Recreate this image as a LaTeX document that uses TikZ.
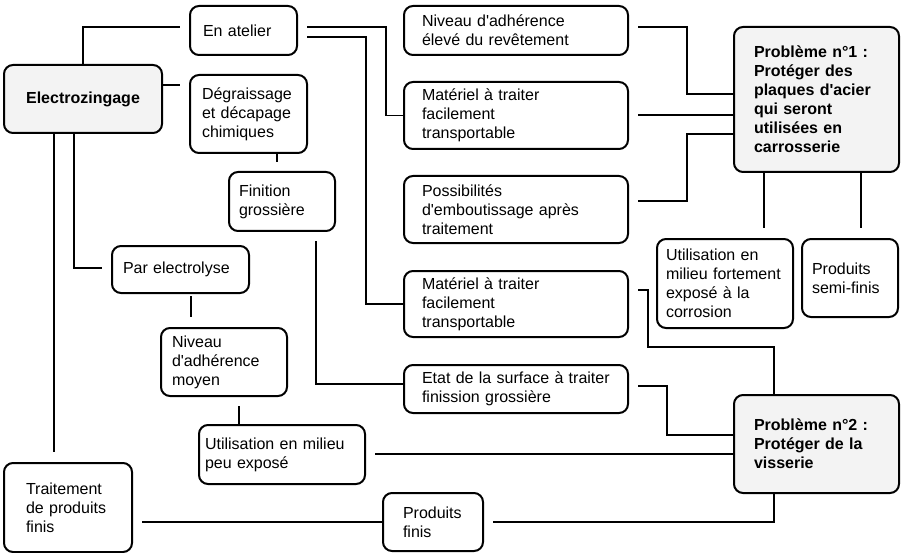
\documentclass[tikz,border=0pt]{standalone}
\usepackage{fontspec}
\setmainfont{Liberation Sans}
\usepackage{tikz}
\usetikzlibrary{positioning}

\definecolor{boxgray}{RGB}{243,243,243}
\newcommand{\boxfont}{\fontsize{16}{19}\selectfont}

\begin{document}
\hyphenpenalty=10000
\begin{tikzpicture} [x=1pt,y=-1pt,
		box/.style={rectangle,draw=black,line width=2pt,rounded corners=9pt,align=left,inner ysep=0pt,font=\boxfont},
		mainbox/.style={box,fill=boxgray,inner xsep=20pt,font=\boxfont\bfseries},
		wire/.style={line width=1.1pt},
		tailgap/.style={shorten <=9pt},
		tipgap/.style={shorten >=9pt},
		node distance = 25pt]

		\useasboundingbox (0,0) rectangle (901,553);

		% left part
		\node[mainbox, align=center, inner xsep=10pt, text width=138pt, minimum height=68pt] (elec) at (83,99) {Electrozingage};
		\node[box, inner xsep=13pt, text width=81pt, minimum height=49pt] (atelier) at (243.5,30.5) {En atelier};
		\node[box, inner xsep=12pt, text width=93pt, minimum height=78pt] (degr) at (248.5,114) {Dégraissage\\et décapage\\chimiques};
		\node[box, inner xsep=10pt, text width=86pt, minimum height=59pt] (finition) at (282,201.5) {Finition\\grossière};
		\node[box, inner xsep=11pt, text width=115pt, minimum height=47pt] (electro) at (180.5,269.5) {Par electrolyse};
		\node[box, inner xsep=11pt, text width=104pt, minimum height=68pt] (moyen) at (224,362) {Niveau\\d\textquotesingle adhérence\\moyen};
		\node[box, inner xsep=6pt, text width=154pt, minimum height=59pt] (peu) at (282,454.5) {Utilisation en milieu\\peu exposé};
		\node[box, inner xsep=22pt, text width=84pt, minimum height=89pt] (traitement) at (68,507.5) {Traitement\\de produits\\finis};
		\node[box, inner xsep=20pt, text width=60pt, minimum height=58pt] (finis) at (433,522) {Produits\\finis};

		% middle column
		\node[box, inner xsep=18pt, text width=188pt, minimum height=49pt] (eleve) at (516,30.5) {Niveau d\textquotesingle adhérence\\élevé du revêtement};
		\node[box, inner xsep=18pt, text width=188pt, minimum height=67pt, below=25pt of eleve] (mat1) {Matériel à traiter\\facilement\\transportable};
		\node[box, inner xsep=18pt, text width=188pt, minimum height=67pt, below=25pt of mat1] (emb) {Possibilités\\d\textquotesingle emboutissage après\\traitement};
		\node[box, inner xsep=18pt, text width=188pt, minimum height=66pt, below=26pt of emb] (mat2) {Matériel à traiter\\facilement\\transportable};
		\node[box, inner xsep=18pt, text width=188pt, minimum height=48pt, below=26pt of mat2] (etat) {Etat de la surface à traiter\\finission grossière};

		% problems
		\node[mainbox, text width=125pt, minimum height=145pt] (prob1) at (816.5,99.5) {Problème n°1 :\\Protéger des\\plaques d\textquotesingle acier\\qui seront\\utilisées en\\carrosserie};
		\node[box, inner xsep=9pt, text width=118pt, minimum height=89pt] (fort) at (725,283.5) {Utilisation en\\milieu fortement\\exposé à la\\corrosion};
		\node[box, inner xsep=10pt, text width=76pt, minimum height=78pt] (semi) at (850,278) {Produits\\semi-finis};
		\node[mainbox, text width=125pt, minimum height=98pt] (prob2) at (816.5,444) {Problème n°2 :\\Protéger de la\\visserie};

		% links from Electrozingage
		\draw[wire,tipgap] (elec.north) |- (atelier.west |- 0,27);
		\draw[wire,tipgap] (elec.east |- 0,85) -- (degr.west |- 0,85);
		\draw[wire,tipgap] (elec.south -| 74,0) |- (electro.west |- 0,268);
		\draw[wire,tipgap,shorten >=10pt] (elec.south -| 54,0) -- (traitement.north -| 54,0);

		% chains
		\draw[wire,tipgap] (degr.south -| 277,0) -- (finition.north -| 277,0);
		\draw[wire,shorten <=2pt,shorten >=10pt] (electro.south -| 191,0) -- (moyen.north -| 191,0);
		\draw[wire,tailgap] (moyen.south -| 239,0) -- (peu.north -| 239,0);

		% towards the middle column
		\draw[wire,tailgap] (atelier.east |- 0,27) -| (386,0 |- mat1.west) -- (mat1.west);
		\draw[wire,tailgap] (atelier.east |- 0,37) -| (366,0 |- mat2.west) -- (mat2.west);
		\draw[wire,tailgap] (finition.south -| 316,0) |- (etat.west |- 0,384);

		% towards problem 1
		\draw[wire,tailgap] (eleve.east |- 0,27) -| (687,94) -- (prob1.west |- 0,94);
		\draw[wire,tailgap] (mat1.east |- 0,115) -- (prob1.west |- 0,115);
		\draw[wire,tailgap] (emb.east |- 0,201) -| (687,134) -- (prob1.west |- 0,134);
		\draw[wire,tipgap,shorten >=10pt] (prob1.south -| 764,0) -- (fort.north -| 764,0);
		\draw[wire,tipgap,shorten >=10pt] (prob1.south -| 861,0) -- (semi.north -| 861,0);

		% towards problem 2
		\draw[wire,tailgap] (mat2.east |- 0,290) -| (648,347) -| (prob2.north -| 774,0);
		\draw[wire,tailgap] (etat.east |- 0,386) -| (667,435) -- (prob2.west |- 0,435);
		\draw[wire,tailgap] (peu.east |- 0,454) -- (prob2.west |- 0,454);
		\draw[wire,tailgap] (traitement.east |- finis.west) -- (finis.west);
		\draw[wire,tailgap] (finis.east) -| (prob2.south -| 774,0);

	\end{tikzpicture}
\end{document}
